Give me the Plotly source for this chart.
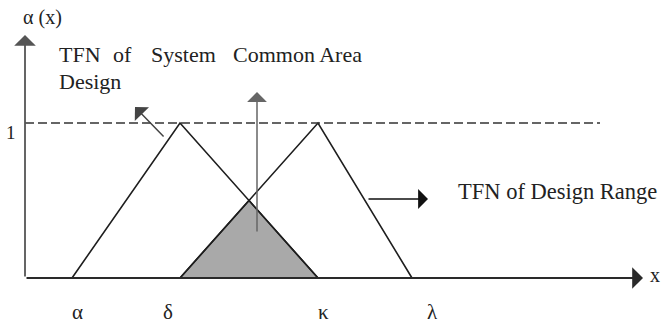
import plotly.graph_objects as go

# Triangular fuzzy numbers (x positions in chart units, membership 0..1)
tick_names = ["α", "δ", "κ", "λ"]
alpha, delta, kappa, lam = 4.7, 15.5, 29.3, 38.7
system_tfn_x = [alpha, delta, kappa]
design_tfn_x = [delta, kappa, lam]
tfn_mu = [0, 1, 0]
dashed_level = 1

# pixel <-> data helpers (figure is 664x327, plot area covers it all)
W, H = 664, 327
X0_PX, X_SCALE = 25, 10.0      # y-axis at pixel 25, 10 px per unit
Y0_PX, Y_SCALE = 278, 155.0    # x-axis at pixel 278, 155 px per unit


def px2x(p):
    return (p - X0_PX) / X_SCALE


def px2y(p):
    return (Y0_PX - p) / Y_SCALE


# intersection of the falling edge of the first TFN and the rising edge of the second
s1 = (tfn_mu[2] - tfn_mu[1]) / (system_tfn_x[2] - system_tfn_x[1])
s2 = (tfn_mu[1] - tfn_mu[0]) / (design_tfn_x[1] - design_tfn_x[0])
xi = (tfn_mu[1] - tfn_mu[0] - s1 * system_tfn_x[1] + s2 * design_tfn_x[0]) / (s2 - s1)
yi = tfn_mu[0] + s2 * (xi - design_tfn_x[0])

LINE = "#1e1e1e"
FONT = '"Liberation Serif", "Times New Roman", "DejaVu Serif", serif'

fig = go.Figure()

# shaded common area
fig.add_trace(go.Scatter(
    x=[design_tfn_x[0], xi, system_tfn_x[2]], y=[0, yi, 0],
    fill="toself", fillcolor="#a9a9a9", mode="lines",
    line=dict(color=LINE, width=1.6), hoverinfo="skip"
))

# the two triangles
for xs in (system_tfn_x, design_tfn_x):
    fig.add_trace(go.Scatter(
        x=xs, y=tfn_mu, mode="lines",
        line=dict(color=LINE, width=1.6), hoverinfo="skip"
    ))

# dashed level line at membership 1
fig.add_trace(go.Scatter(
    x=[0, px2x(600)], y=[dashed_level, dashed_level], mode="lines",
    line=dict(color="#333333", width=1.3, dash="9px,4px"), hoverinfo="skip"
))

annotations = []


def arrow(x_tail, y_tail, x_tip, y_tip, color, width=1.5, size=1.3):
    annotations.append(dict(
        x=x_tip, y=y_tip, ax=x_tail, ay=y_tail,
        xref="x", yref="y", axref="x", ayref="y",
        text="", showarrow=True, arrowhead=1, arrowsize=size,
        arrowwidth=width, arrowcolor=color
    ))


def label(text, x_px, y_px, size=20, anchor="center"):
    annotations.append(dict(
        x=px2x(x_px), y=px2y(y_px), xref="x", yref="y",
        text=text, showarrow=False, xanchor=anchor, yanchor="middle",
        font=dict(family=FONT, size=size, color="#222222")
    ))


# axes with arrowheads
arrow(0, 0, px2x(643), 0, "#2a2a2a", width=1.8, size=2.0)
arrow(0, 0, 0, px2y(35), "#555555", width=1.8, size=2.0)

# pointer arrows
arrow(px2x(165), px2y(138), px2x(135), px2y(107), "#444444", width=1.5, size=2.2)
arrow(px2x(257), px2y(233), px2x(257), px2y(92), "#666666", width=1.5, size=2.2)
arrow(px2x(367), px2y(199), px2x(428), px2y(199), "#111111", width=1.5, size=2.2)

# texts
label("α (x)", 42, 17, size=20)
label("1", 11, 132, size=19)
label("x", 655, 275, size=20)
label("TFN", 57, 54, size=22, anchor="left")
label("of", 111, 54, size=22, anchor="left")
label("System", 149, 54, size=22, anchor="left")
label("Common Area", 231, 54, size=22, anchor="left")
label("Design", 57, 81, size=22, anchor="left")
label("TFN of Design Range", 456, 191, size=22.5, anchor="left")
for name, xp in zip(tick_names, [77, 168, 323, 432]):
    label(name, xp, 312, size=21)

fig.update_layout(
    width=W, height=H,
    margin=dict(l=0, r=0, t=0, b=0),
    paper_bgcolor="white", plot_bgcolor="white",
    showlegend=False,
    annotations=annotations,
    xaxis=dict(range=[px2x(0), px2x(W)], visible=False, fixedrange=True),
    yaxis=dict(range=[px2y(H), px2y(0)], visible=False, fixedrange=True),
)

# drop the default page margin so the figure fills the window exactly
fig.write_html(
    "out.html",
    config={"displayModeBar": False},
    post_script="document.body.style.margin='0';document.body.style.overflow='hidden';",
)
